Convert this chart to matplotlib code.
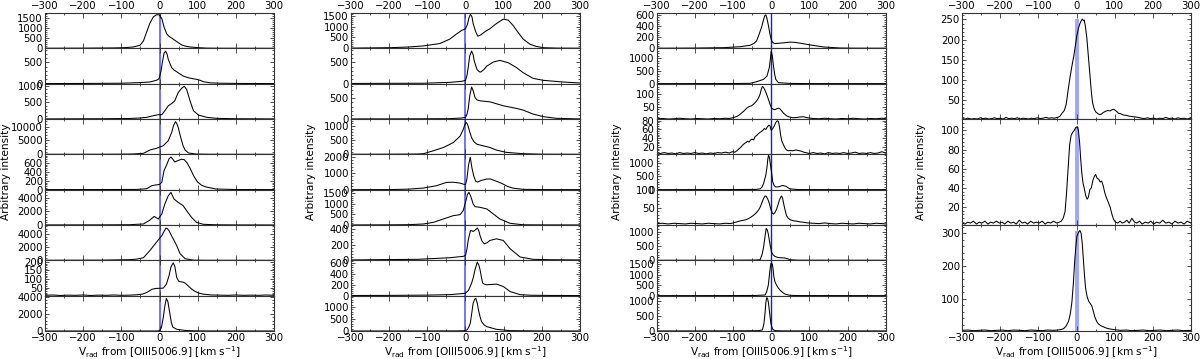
import matplotlib
matplotlib.use('Agg')
import matplotlib.pyplot as plt
from matplotlib.ticker import MultipleLocator, FixedLocator

# ---------------- data (velocity km/s, arbitrary intensity) ----------------
# Column 1
c1p1_v = [-300,-200,-120,-90,-69,-51,-42,-34,-25,-16,-8,-1,6,12,19,25,32,38,45,52,58,68,80,100,124,160,220,300]
c1p1_y = [5,10,20,35,67,155,376,804,1268,1577,1680,1680,1495,1062,722,600,515,430,340,250,170,110,67,35,10,5,3,2]
c1p2_v = [-300,-200,-100,-51,-25,-8,-1,4,8,12,16,20,23,28,32,38,45,55,62,75,88,97,106,115,132,160,220,300]
c1p2_y = [3,5,10,25,40,79,117,300,530,720,764,690,570,460,374,320,280,220,180,140,115,103,80,47,20,10,5,3]
c1p3_v = [-300,-150,-80,-51,-34,-16,-3,6,14,23,32,40,49,58,65,71,80,89,102,124,150,200,300]
c1p3_y = [3,8,15,30,50,100,130,130,250,400,470,550,800,930,990,900,550,250,120,50,20,8,3]
c1p4_v = [-300,-150,-100,-69,-42,-25,-8,10,23,32,37,42,45,49,53,58,62,67,76,97,130,200,300]
c1p4_y = [10,30,60,120,360,1570,2170,3130,4940,7950,10500,11800,11200,9760,7500,4940,3000,1570,480,100,30,10,5]
c1p5_v = [-300,-150,-60,-34,-20,-10,0,6,12,19,25,30,35,40,48,58,65,72,80,90,100,110,122,148,200,300]
c1p5_y = [2,3,5,20,90,105,115,165,430,560,690,730,680,620,650,680,670,600,480,300,170,100,60,15,3,2]
c1p6_v = [-300,-150,-80,-42,-25,-14,-3,6,14,23,30,38,49,62,71,84,97,115,150,200,300]
c1p6_y = [10,20,40,150,730,1260,880,1620,3090,4300,4790,3820,3320,2840,2100,1120,380,100,30,10,5]
c1p7_v = [-300,-150,-80,-60,-42,-25,-8,6,12,17,21,25,30,36,45,54,67,89,120,200,300]
c1p7_y = [10,30,100,180,400,1500,2750,3750,4400,4900,4800,4500,3900,3250,2250,1000,250,30,10,5,3]
c1p8_v = [-300,-280,-260,-240,-220,-200,-180,-160,-140,-120,-100,-80,-60,-45,-33,-20,-10,0,10,18,25,30,36,40,45,50,55,62,68,76,85,93,103,115,136,160,180,200,220,240,260,280,300]
c1p8_y = [5,7,4,6,5,7,4,6,5,7,5,6,8,12,22,40,45,46,47,70,120,170,195,175,110,88,84,82,75,58,40,28,18,12,7,6,5,7,5,6,5,7,5]
c1p9_v = [-300,-100,-10,0,5,10,14,18,22,27,31,35,45,70,100,300]
c1p9_y = [0,0,0,30,400,1600,2900,3780,3400,2050,1000,450,200,50,10,0]
c1_ylims = [(0,1770),(0,830),(0,1070),(0,12770),(0,790),(0,5190),(0,5370),(3,209),(0,4100)]
c1_yticks = [[0,500,1000,1500],[0,500],[0,500,1000],[0,5000,10000],[0,200,400,600],
             [0,2000,4000],[0,2000,4000],[50,100,150,200],[0,2000,4000]]

# Column 2
c2p1_v = [-300,-198,-150,-111,-67,-41,-23,-10,0,5,9,13,17,20,26,32,40,52,64,81,99,112,125,134,151,169,185,204,240,300]
c2p1_y = [10,30,60,111,222,428,667,825,905,1100,1400,1571,1450,1143,800,560,620,780,905,1143,1349,1300,1050,825,428,190,90,30,10,5]
c2p2_v = [-300,-200,-110,-41,-10,0,4,7,11,16,20,23,30,36,40,48,56,73,90,112,134,151,177,204,256,300]
c2p2_y = [5,8,10,31,55,78,200,375,650,765,680,531,336,280,273,330,414,508,547,492,375,258,125,78,39,16]
c2p3_v = [-300,-200,-100,-41,-10,0,4,7,11,16,20,25,30,38,64,99,134,151,177,204,239,283,300]
c2p3_y = [2,3,5,8,24,40,120,238,550,770,680,516,460,437,413,318,254,214,119,56,16,5,3]
c2p4_v = [-300,-200,-150,-125,-110,-84,-58,-32,-14,-6,-2,1.3,4,7,11,16,22,30,47,64,81,107,151,200,300]
c2p4_y = [2,5,8,12,23,128,244,419,651,884,1050,1140,1100,1000,800,593,450,360,302,244,151,70,23,5,2]
c2p5_v = [-300,-200,-150,-110,-76,-50,-32,-15,-5,0,4,8,12.5,17,22,27,32,40,55,65,80,95,110,125,150,200,300]
c2p5_y = [3,5,30,100,240,440,450,400,330,300,700,1500,1960,1300,800,500,460,550,640,650,520,380,200,90,20,5,2]
c2p6_v = [-300,-200,-150,-110,-84,-58,-32,-14,-6,0,5,9,13,16,20,25,38,56,73,90,117,151,200,300]
c2p6_y = [3,8,15,48,127,286,444,492,683,1080,1450,1555,1400,1238,1000,873,841,762,524,286,79,10,5,2]
c2p7_v = [-300,-200,-125,-93,-40,-6,0,4,7,13,17,20,26,31,35,38,43,49,56,64,81,99,117,143,177,220,300]
c2p7_y = [5,10,13,21,34,51,64,150,256,383,380,371,392,417,380,320,250,213,225,256,277,256,149,43,13,8,5]
c2p8_v = [-300,-200,-100,-40,0,8,16,21,25,31,35,38,42,45,50,56,81,99,117,143,170,220,300]
c2p8_y = [3,5,10,19,44,100,231,350,481,619,560,481,330,231,210,200,213,169,75,19,8,4,2]
c2p9_v = [-300,-100,-20,0,5,9,12.5,16,20,24,27,31,34,38,42,49,56,81,117,200,300]
c2p9_y = [0,2,5,14,60,180,320,700,1153,1320,1360,1150,875,600,389,250,180,70,15,3,0]
c2_ylims = [(0,1630),(0,830),(0,850),(0,1260),(0,2140),(0,1680),(0,455),(0,650),(0,1470)]
c2_yticks = [[0,500,1000,1500],[0,500],[0,500],[0,500,1000],[0,1000,2000],
             [0,500,1000,1500],[0,200,400],[0,200,400,600],[0,500,1000,1500]]

# Column 3
c3p1_v = [-300,-200,-125,-80,-55,-45,-38,-32,-25,-20,-17,-14,-11,-7.5,-3,1,5,10,20,32,49,60,75,102,137,180,220,300]
c3p1_y = [2,5,12,30,56,90,137,250,387,520,590,606,540,419,250,137,100,87,92,100,112,110,94,62,25,6,3,2]
c3p2_v = [-300,-200,-100,-55,-38,-20,-11,-5,-2,0,3,6,9,12,19,49,100,300]
c3p2_y = [2,3,5,13,79,171,303,632,1000,1290,1100,697,380,171,39,10,3,2]
c3p3_v = [-300,-285,-270,-255,-240,-225,-210,-195,-180,-165,-150,-135,-120,-110,-100,-90,-82,-72,-64,-58,-52,-45,-38,-33,-29,-26,-23,-20,-16,-12,-7.5,-3,1,5,10,15,19,23,27.5,33,41,50,58,67,75,84,95,110,125,140,155,170,185,200,215,230,245,260,275,290,300]
c3p3_y = [3,4,2,3,5,3,2,4,3,2,4,3,5,4,7,12,20,33,45,51,54,62,74,86,101,120,131,127,115,100,81,60,45,41,39,43,45,42,34,24,14,9,7,8,10,11,7,4,3,5,3,2,4,3,5,3,2,4,3,5,3]
c3p4_v = [-300,-290,-280,-270,-260,-250,-240,-230,-220,-210,-200,-190,-180,-170,-160,-150,-140,-130,-120,-110,-102,-95,-90,-85,-80,-75,-70,-66,-62,-58,-54,-50,-46,-42,-38,-34,-30,-26,-22,-18,-14,-10,-6,-3,0,4,8,12,16,19,22,25,28,32,36,40,45,50,55,60,65,70,75,80,85,90,95,100,110,120,130,140,150,160,170,180,190,200,210,220,230,240,250,260,270,280,290,300]
c3p4_y = [6,5,7,5,6,4,7,5,6,5,7,5,6,4,6,5,7,6,8,6,9,8,11,15,19,24,28,30,33,31,36,38,36,44,46,50,53,55,58,62,60,66,70,68,58,62,68,76,80,78,65,45,33,25,18,13,11,12,11,12,13,12,11,10,8,7,6,5,7,5,6,4,7,5,6,5,7,5,6,8,5,6,5,7,5,6,9,6]
c3p5_v = [-300,-200,-100,-40,-29,-24,-20,-16,-14,-11,-9,-7,-5,-3,-1,1,4,8,12,20,30,38,49,70,100,300]
c3p5_y = [2,3,5,10,30,100,230,450,560,850,1150,1300,1250,1050,850,650,300,150,100,110,160,130,30,5,3,2]
c3p6_v = [-300,-285,-270,-255,-240,-225,-210,-195,-180,-165,-150,-135,-120,-108,-99,-90,-80,-70,-64,-55,-46,-40,-33,-28,-24,-20,-16,-13,-9,-5,-1,3,6,10,14,18,21,25,27.5,30,33,37,40,45,50,58,67,75,84,95,110,125,140,155,170,185,200,215,230,245,260,275,290,300]
c3p6_y = [4,5,3,5,4,3,5,4,3,5,4,3,5,4,6,9,12,14,16,21,28,34,43,53,65,76,83,82,74,62,45,34,31,36,45,58,70,80,83,76,59,40,27,19,15,12,11,9,8,6,5,4,6,4,3,5,4,3,5,4,3,5,4,3]
c3p7_v = [-300,-200,-100,-40,-29,-24,-20,-16,-13,-10,-7.5,-3,1,5,10,17,23,30,36,43,49,70,300]
c3p7_y = [2,3,5,10,23,200,454,850,1113,1050,909,550,284,190,136,100,91,88,80,55,23,5,2]
c3p8_v = [-300,-200,-100,-40,-16,-12,-7.5,-4,-1,1,3,5,7,10,14,18,23,30,36,49,70,300]
c3p8_y = [2,3,5,10,31,180,500,1100,1513,1530,1482,1250,889,650,500,380,265,150,78,15,5,2]
c3p9_v = [-300,-200,-100,-35,-23,-19,-16,-14,-11.7,-9.5,-7.5,-5,-1,2,4,8,14,30,300]
c3p9_y = [2,3,5,10,35,250,616,950,1116,1080,965,700,267,120,58,25,10,4,2]
c3_ylims = [(0,640),(0,1400),(2,142),(3,84),(0,1340),(0,101),(0,1230),(0,1670),(0,1180)]
c3_yticks = [[0,200,400,600],[0,500,1000],[50,100],[20,40,60,80],[0,500,1000],
             [50,100],[0,500,1000],[0,500,1000,1500],[0,500,1000]]

# Column 4
c4p1_v = [-300,-292,-285,-276,-268,-260,-252,-245,-238,-230,-222,-215,-208,-200,-192,-185,-178,-170,-162,-155,-148,-140,-132,-125,-118,-110,-102,-95,-88,-80,-72,-65,-58,-50,-44,-38,-32,-27,-22,-17,-12,-7,-3,1,5,9,13,15,18,20,23,27,31,35,39,42,46,50,55,60,65,70,76,82,88,93,98,102,106,110,116,122,130,138,146,154,162,170,178,186,194,202,210,218,226,234,242,250,258,266,274,282,290,300]
c4p1_y = [5,4,6,4,5,4,7,5,6,4,5,7,5,6,4,8,5,6,5,7,4,6,5,4,6,5,7,5,6,8,6,7,6,8,10,18,25,40,75,107,135,160,185,210,228,240,248,251,247,249,235,205,160,115,70,45,30,22,18,15,16,20,23,25,24,27,28,25,22,18,17,14,13,11,10,9,8,6,5,7,5,6,4,6,5,8,5,6,4,7,5,6,4,6]
c4p2_v = [-300,-292,-285,-278,-270,-262,-255,-248,-240,-232,-225,-218,-210,-202,-195,-188,-180,-172,-165,-158,-150,-142,-135,-128,-120,-112,-105,-98,-90,-82,-75,-68,-60,-52,-45,-40,-35,-30,-26,-22,-18,-14,-10,-6,-2,2,5,8,11,14,17,20,24,28,31,35,39,43,47,50,54,58,62,66,70,74,78,83,88,93,97,102,108,114,120,126,132,138,145,152,158,165,172,180,188,195,202,210,218,226,234,242,250,258,266,274,282,290,300]
c4p2_y = [3,2,4,3,5,2,4,3,5,2,4,3,5,3,4,2,5,3,4,2,6,3,4,2,5,3,4,3,5,2,4,3,5,3,4,5,8,15,35,60,85,95,98,100,103,104,100,88,70,55,45,40,32,28,30,38,40,48,52,54,50,49,46,47,42,35,30,25,20,12,7,4,3,5,3,4,6,3,8,4,3,5,2,4,3,5,2,4,3,6,3,4,2,5,3,4,2,5,3]
c4p3_v = [-300,-285,-270,-255,-240,-225,-210,-195,-180,-165,-150,-135,-120,-105,-90,-75,-60,-50,-42,-34,-28,-21,-16,-12,-8,-5,-2,1,5,9,12,15,18,21,24,28,32,36,40,44,48,53,58,64,70,78,88,100,115,130,145,160,175,190,205,220,235,250,265,280,300]
c4p3_y = [3,4,2,3,4,2,3,4,2,4,3,2,4,3,2,4,3,4,5,8,15,30,55,90,150,210,255,290,302,308,300,270,220,170,130,105,92,85,78,62,44,30,22,17,14,10,7,5,3,4,2,3,4,2,3,4,2,3,4,2,3]
c4_ylims = [(4,266),(1,112),(1,325)]
c4_yticks = [[50,100,150,200,250],[20,40,60,80,100],[100,200,300]]

x_range = (-300, 300)
xlabel_text = r'V$_{\rm rad}$ from [OIII5006.9] [km s$^{-1}$]'
ylabel_text = 'Arbitrary intensity'

# ---------------- layout ----------------
W, H = 1200, 359
fig = plt.figure(figsize=(W / 100, H / 100), dpi=100)

columns = [
    dict(left=45, panels=[(c1p1_v, c1p1_y), (c1p2_v, c1p2_y), (c1p3_v, c1p3_y), (c1p4_v, c1p4_y),
                          (c1p5_v, c1p5_y), (c1p6_v, c1p6_y), (c1p7_v, c1p7_y), (c1p8_v, c1p8_y),
                          (c1p9_v, c1p9_y)],
         ylims=c1_ylims, yticks=c1_yticks, vcolor='#7272ff', vlw=1.4, vfull=True, ylab_x=6),
    dict(left=351, panels=[(c2p1_v, c2p1_y), (c2p2_v, c2p2_y), (c2p3_v, c2p3_y), (c2p4_v, c2p4_y),
                           (c2p5_v, c2p5_y), (c2p6_v, c2p6_y), (c2p7_v, c2p7_y), (c2p8_v, c2p8_y),
                           (c2p9_v, c2p9_y)],
         ylims=c2_ylims, yticks=c2_yticks, vcolor='#7272ff', vlw=1.4, vfull=True, ylab_x=311),
    dict(left=656.7, panels=[(c3p1_v, c3p1_y), (c3p2_v, c3p2_y), (c3p3_v, c3p3_y), (c3p4_v, c3p4_y),
                             (c3p5_v, c3p5_y), (c3p6_v, c3p6_y), (c3p7_v, c3p7_y), (c3p8_v, c3p8_y),
                             (c3p9_v, c3p9_y)],
         ylims=c3_ylims, yticks=c3_yticks, vcolor='#1c1cc8', vlw=1.0, vfull=True, ylab_x=617),
    dict(left=962, panels=[(c4p1_v, c4p1_y), (c4p2_v, c4p2_y), (c4p3_v, c4p3_y)],
         ylims=c4_ylims, yticks=c4_yticks, vcolor='#a4a4ff', vlw=2.8, vfull=False, ylab_x=921),
]

col_w = 229
top_px, bot_px = 13, 331
FS = 7.3
spine_c = '#333333'

for col in columns:
    n = len(col['panels'])
    ph = (bot_px - top_px) / n
    for i, ((v, y), ylim, yt) in enumerate(zip(col['panels'], col['ylims'], col['yticks'])):
        ytop = top_px + i * ph
        ax = fig.add_axes([col['left'] / W, 1 - (ytop + ph) / H, col_w / W, ph / H])
        ax.set_xlim(*x_range)
        ax.set_ylim(*ylim)
        if col['vfull']:
            ax.axvline(0, color=col['vcolor'], lw=col['vlw'], zorder=1)
        else:
            ax.vlines(0, ylim[0], max(y), color=col['vcolor'], lw=col['vlw'], zorder=1)
        ax.plot(v, y, color='black', lw=0.75, zorder=2)
        ax.xaxis.set_major_locator(MultipleLocator(100))
        ax.xaxis.set_minor_locator(MultipleLocator(50))
        ax.yaxis.set_major_locator(FixedLocator(yt))
        step = (yt[1] - yt[0]) / 5.0
        ax.yaxis.set_minor_locator(MultipleLocator(step))
        ax.tick_params(which='both', direction='in', top=True, right=True,
                       labelsize=FS, pad=1.5, color=spine_c, width=0.6)
        ax.tick_params(which='major', length=3.2)
        ax.tick_params(which='minor', length=1.6)
        ax.tick_params(axis='x', which='major', length=3.5)
        ax.tick_params(axis='x', labelbottom=(i == n - 1), labeltop=(i == 0))
        for s in ax.spines.values():
            s.set_linewidth(0.8)
            s.set_color(spine_c)
        ax.set_facecolor('white')
    # labels
    fig.text((col['left'] + col_w / 2) / W, 1 - 352 / H, xlabel_text, ha='center', va='center',
             fontsize=7.6)
    fig.text(col['ylab_x'] / W, 1 - 172 / H, ylabel_text, ha='center', va='center',
             rotation=90, fontsize=7.6)

fig.savefig('out.png', dpi=100, facecolor='white')
